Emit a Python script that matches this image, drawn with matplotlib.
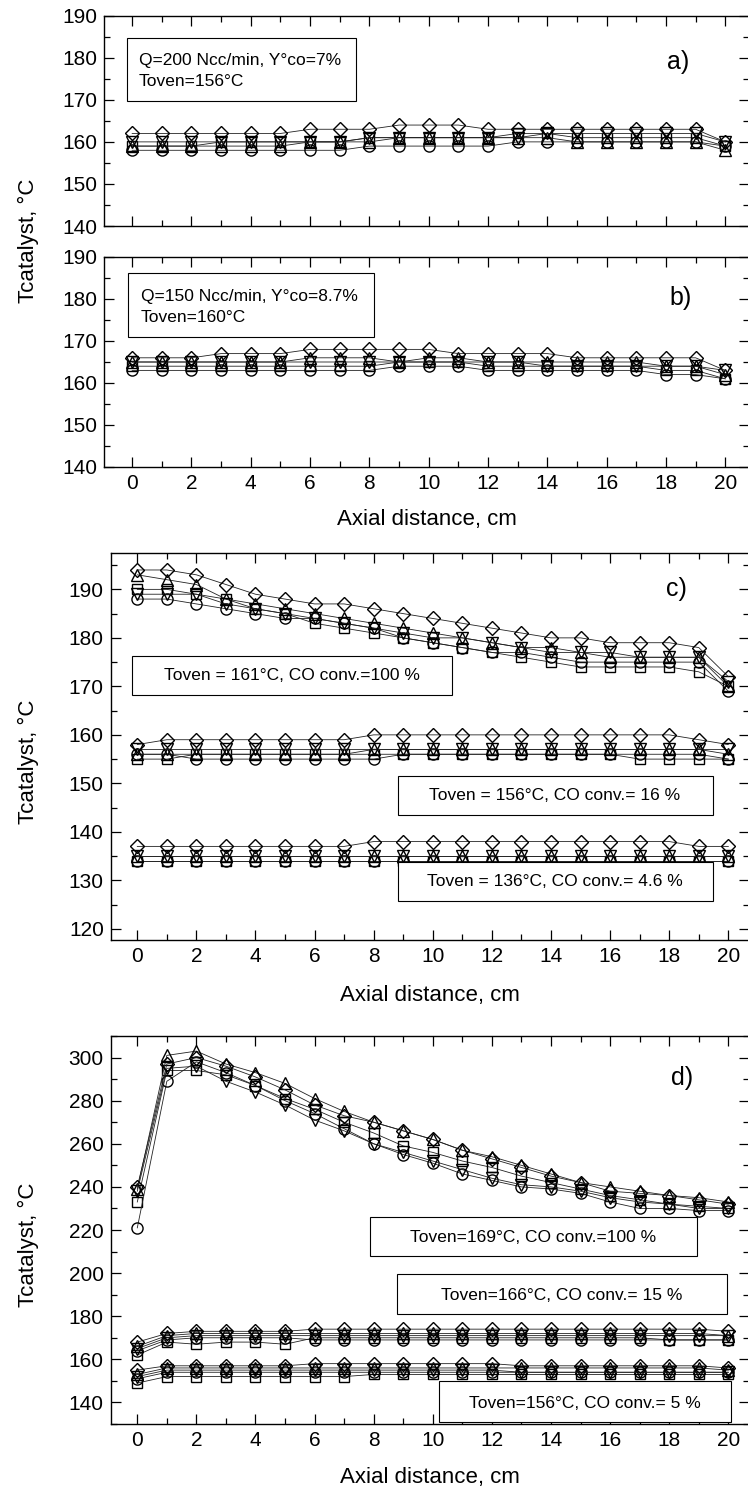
import matplotlib
matplotlib.use("Agg")
import matplotlib.pyplot as plt
from matplotlib.patches import Rectangle
from matplotlib.ticker import MultipleLocator

plt.rcParams['font.family'] = ['Liberation Sans', 'DejaVu Sans']

# ---------------- data ----------------
x = list(range(21))

# panel a: Q=200 Ncc/min, Toven=156
a_square = [159,159,159,160,160,160,160,160,161,161,161,161,161,162,162,161,161,161,161,161,159]
a_circle = [158,158,158,158,158,158,158,158,159,159,159,159,159,160,160,160,160,160,160,160,159]
a_up     = [159,159,159,159,159,159,160,160,160,161,161,161,161,161,161,160,160,160,160,160,158]
a_down   = [160,160,160,160,160,160,160,160,161,161,161,161,161,161,162,162,162,162,162,162,160]
a_diam   = [162,162,162,162,162,162,163,163,163,164,164,164,163,163,163,163,163,163,163,163,160]

# panel b: Q=150 Ncc/min, Toven=160
b_square = [164,164,164,164,164,164,164,164,164,165,165,165,164,164,164,164,164,164,163,163,161]
b_circle = [163,163,163,163,163,163,163,163,163,164,164,164,163,163,163,163,163,163,162,162,161]
b_up     = [165,165,165,165,165,165,166,166,166,165,166,166,165,165,165,165,165,165,164,164,162]
b_down   = [165,165,165,165,165,165,165,165,165,165,165,165,165,165,164,164,164,164,164,164,163]
b_diam   = [166,166,166,167,167,167,168,168,168,168,168,167,167,167,167,166,166,166,166,166,163]

# panel c, group 1: Toven=161, CO conv.=100 %
c1_square = [190,190,189,188,186,185,183,182,181,180,179,178,177,176,175,174,174,174,174,173,170]
c1_circle = [188,188,187,186,185,184,184,183,182,180,179,178,177,177,176,175,175,175,175,175,169]
c1_up     = [193,192,191,188,187,186,185,184,183,182,181,180,179,178,178,177,176,176,176,176,170]
c1_down   = [189,189,189,187,186,185,184,183,182,181,180,180,179,178,177,177,177,176,176,176,171]
c1_diam   = [194,194,193,191,189,188,187,187,186,185,184,183,182,181,180,180,179,179,179,178,172]
# group 2: Toven=156, CO conv.=16 %
c2_square = [155,155,156,156,156,156,156,156,156,156,156,156,156,156,156,156,156,155,155,155,155]
c2_circle = [156,156,155,155,155,155,155,155,155,156,156,156,156,156,156,156,156,156,156,156,155]
c2_up     = [156,156,156,156,156,156,156,156,157,157,157,157,157,157,157,157,157,157,157,157,156]
c2_down   = [157,157,157,157,157,157,157,157,157,157,157,157,157,157,157,157,157,157,157,157,157]
c2_diam   = [158,159,159,159,159,159,159,159,160,160,160,160,160,160,160,160,160,160,160,159,158]
# group 3: Toven=136, CO conv.=4.6 %
c3_square = [134,134,134,134,134,134,134,134,134,134,134,134,134,134,134,134,134,134,134,134,134]
c3_circle = [134,134,134,134,134,134,134,134,134,134,134,134,134,134,134,134,134,134,134,134,134]
c3_up     = [135,135,135,135,135,135,135,135,135,135,135,135,135,135,135,135,135,135,135,135,135]
c3_down   = [135,135,135,135,135,135,135,135,135,135,135,135,135,135,135,135,135,135,135,135,135]
c3_diam   = [137,137,137,137,137,137,137,137,138,138,138,138,138,138,138,138,138,138,138,137,137]

# panel d, group 1: Toven=169, CO conv.=100 %
d1_square = [233,294,294,292,287,281,276,270,265,259,256,252,249,245,242,239,236,234,232,231,230]
d1_circle = [221,289,298,293,287,280,274,267,260,255,251,246,243,240,239,237,233,230,230,229,229]
d1_up     = [239,301,303,297,293,288,281,275,270,266,262,257,254,250,246,242,240,238,236,235,233]
d1_down   = [238,295,296,289,284,278,271,266,260,256,252,248,244,241,240,238,235,233,232,230,230]
d1_diam   = [240,297,300,296,291,285,278,273,270,266,262,257,253,249,245,242,238,237,236,234,232]
# group 2: Toven=166, CO conv.=15 %
d2_square = [162,168,167,168,168,167,170,170,170,170,170,170,170,170,170,170,170,170,169,169,169]
d2_circle = [164,169,170,170,170,170,169,169,169,169,169,169,169,169,169,169,169,169,169,169,169]
d2_up     = [166,171,172,172,172,172,172,172,172,172,172,172,172,172,172,172,172,172,172,172,171]
d2_down   = [165,170,171,171,171,171,171,171,171,171,171,171,171,171,171,171,171,171,171,171,171]
d2_diam   = [168,172,173,173,173,173,174,174,174,174,174,174,174,174,174,174,174,174,174,174,173]
# group 3: Toven=156, CO conv.=5 %
d3_square = [149,152,152,152,152,152,152,152,153,153,153,153,153,153,153,153,153,153,153,153,153]
d3_circle = [151,154,154,154,154,154,154,154,154,154,154,154,154,154,154,154,154,154,154,154,154]
d3_up     = [153,156,156,156,156,156,156,156,156,156,156,156,156,156,156,156,156,156,156,156,155]
d3_down   = [152,155,155,155,155,155,155,155,155,155,155,155,155,154,154,154,154,154,154,154,154]
d3_diam   = [155,157,157,157,157,157,158,158,158,158,158,158,158,157,157,157,157,157,157,157,156]

xticks = [0, 2, 4, 6, 8, 10, 12, 14, 16, 18, 20]
xlabel = "Axial distance, cm"
ylabel = "Tcatalyst, °C"

# ---------------- layout ----------------
W, H = 748, 1489
fig = plt.figure(figsize=(W / 100, H / 100), dpi=100)

def ax_at(l, t, r, b):
    return fig.add_axes([l / W, 1 - b / H, (r - l) / W, (b - t) / H])

markers = ['s', 'o', '^', 'v', 'D']
msizes = [7.5, 8, 8.5, 8.5, 7.5]

def draw_group(ax, series):
    for ys, m, ms in zip(series, markers, msizes):
        ax.plot(x, ys, color='#222222', lw=0.6, marker=m, ms=ms,
                mfc='none', mec='black', mew=1.0)

def style(ax, ylim, ymaj, ymin, xlim, labels_x=True):
    ax.set_xlim(*xlim)
    ax.set_ylim(*ylim)
    ax.set_xticks(xticks)
    ax.xaxis.set_minor_locator(MultipleLocator(1))
    ax.yaxis.set_major_locator(MultipleLocator(ymaj))
    ax.yaxis.set_minor_locator(MultipleLocator(ymin))
    ax.tick_params(which='both', direction='in', top=True, right=True,
                   labelsize=15, width=0.9, pad=5)
    ax.tick_params(which='major', length=7)
    ax.tick_params(which='minor', length=4)
    if not labels_x:
        ax.tick_params(labelbottom=False)
    for s in ax.spines.values():
        s.set_linewidth(1.0)

def box(ax, geom, l, t, r, b, text, tx=None, ty=None, ha='center', fs=12.5):
    L, T, R, B = geom
    fx = lambda px: (px - L) / (R - L)
    fy = lambda py: (B - py) / (B - T)
    ax.add_patch(Rectangle((fx(l), fy(b)), fx(r) - fx(l), fy(t) - fy(b),
                           transform=ax.transAxes, fill=True, fc='white',
                           ec='black', lw=0.8, zorder=5, clip_on=False))
    if isinstance(text, str):
        text = [(text, tx, ty)]
    for s, px, py in text:
        ax.text(fx(px), fy(py), s, transform=ax.transAxes, ha=ha, va='center',
                fontsize=fs, zorder=6)

def panel_letter(ax, geom, px, py, s):
    L, T, R, B = geom
    ax.text((px - L) / (R - L), (B - py) / (B - T), s, transform=ax.transAxes,
            ha='center', va='center', fontsize=18)

# panel a
ga = (104, 15.7, 749, 226)
axa = ax_at(*ga)
draw_group(axa, [a_square, a_circle, a_up, a_down, a_diam])
style(axa, (140, 190), 10, 5, (-0.95, 20.8), labels_x=False)
box(axa, ga, 127, 38, 356, 101,
    [("Q=200 Ncc/min, Y°co=7%", 139, 60), ("Toven=156°C", 139, 81)], ha='left')
panel_letter(axa, ga, 678, 62, "a)")

# panel b
gb = (104, 257, 749, 467)
axb = ax_at(*gb)
draw_group(axb, [b_square, b_circle, b_up, b_down, b_diam])
style(axb, (140, 190), 10, 5, (-0.95, 20.8))
box(axb, gb, 128, 273, 374, 337,
    [("Q=150 Ncc/min, Y°co=8.7%", 141, 297), ("Toven=160°C", 141, 318)], ha='left')
panel_letter(axb, gb, 681, 298, "b)")
axb.set_xlabel(xlabel, fontsize=16)
axb.xaxis.label.set_va('center')
axb.xaxis.set_label_coords(0.5, (gb[3] - 519) / (gb[3] - gb[1]))
fig.text(28 / W, 1 - 241 / H, ylabel, rotation=90, ha='center', va='center',
         fontsize=16)

# panel c
gc = (110.7, 553, 749, 940)
axc = ax_at(*gc)
draw_group(axc, [c1_square, c1_circle, c1_up, c1_down, c1_diam])
draw_group(axc, [c2_square, c2_circle, c2_up, c2_down, c2_diam])
draw_group(axc, [c3_square, c3_circle, c3_up, c3_down, c3_diam])
style(axc, (117.7, 197.5), 10, 5, (-0.9, 20.7))
box(axc, gc, 132, 656, 452, 695, "Toven = 161°C, CO conv.=100 %", 292, 676)
box(axc, gc, 398, 776, 713, 815, "Toven = 156°C, CO conv.= 16 %", 555, 796)
box(axc, gc, 398, 862, 713, 901, "Toven = 136°C, CO conv.= 4.6 %", 555, 882)
panel_letter(axc, gc, 676, 589, "c)")
axc.set_xlabel(xlabel, fontsize=16)
axc.xaxis.label.set_va('center')
axc.xaxis.set_label_coords(0.5, (gc[3] - 995) / (gc[3] - gc[1]))
axc.set_ylabel(ylabel, fontsize=16)
axc.yaxis.label.set_va('center')
axc.yaxis.set_label_coords((28 - gc[0]) / (gc[2] - gc[0]), (gc[3] - 762) / (gc[3] - gc[1]))

# panel d
gd = (110.7, 1036, 749, 1424)
axd = ax_at(*gd)
draw_group(axd, [d1_square, d1_circle, d1_up, d1_down, d1_diam])
draw_group(axd, [d2_square, d2_circle, d2_up, d2_down, d2_diam])
draw_group(axd, [d3_square, d3_circle, d3_up, d3_down, d3_diam])
style(axd, (130, 310), 20, 10, (-0.9, 20.7))
box(axd, gd, 370, 1217, 697, 1256, "Toven=169°C, CO conv.=100 %", 533, 1237)
box(axd, gd, 397, 1274, 727, 1314, "Toven=166°C, CO conv.= 15 %", 562, 1295)
box(axd, gd, 439, 1381, 731, 1422, "Toven=156°C, CO conv.= 5 %", 585, 1403)
panel_letter(axd, gd, 682, 1078, "d)")
axd.set_xlabel(xlabel, fontsize=16)
axd.xaxis.label.set_va('center')
axd.xaxis.set_label_coords(0.5, (gd[3] - 1477) / (gd[3] - gd[1]))
axd.set_ylabel(ylabel, fontsize=16)
axd.yaxis.label.set_va('center')
axd.yaxis.set_label_coords((28 - gd[0]) / (gd[2] - gd[0]), (gd[3] - 1245) / (gd[3] - gd[1]))

fig.savefig("out.png", dpi=100)
